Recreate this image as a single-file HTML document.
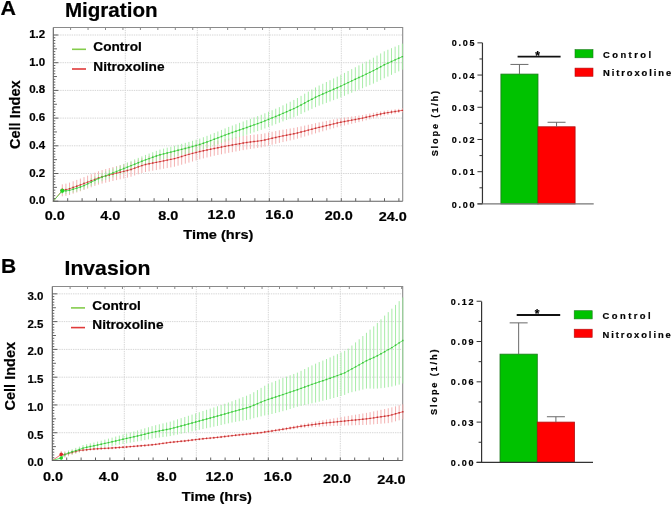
<!DOCTYPE html>
<html><head><meta charset="utf-8"><style>
html,body{margin:0;padding:0;background:#fff;width:672px;height:505px;overflow:hidden}
svg{display:block;will-change:transform}
</style></head><body>
<svg width="672" height="505" viewBox="0 0 672 505">
<rect width="672" height="505" fill="#fff"/>
<path d="M53.3 173.5H402.7 M53.3 145.8H402.7 M53.3 118.1H402.7 M53.3 90.4H402.7 M53.3 62.7H402.7 M53.3 35H402.7 M125.3 27.5V201.2 M197.3 27.5V201.2 M269.3 27.5V201.2 M341.3 27.5V201.2" stroke="#d6d6d6" stroke-width="1" stroke-dasharray="1.4 0.9" fill="none"/>
<path d="M53.3 27.5H402.7V201.2" stroke="#8a8a8a" stroke-width="1.1" fill="none"/>
<path d="M70.6 27.5v2.5 M88.05 27.5v2.5 M105.5 27.5v2.5 M122.95 27.5v2.5 M140.4 27.5v2.5 M157.85 27.5v2.5 M175.3 27.5v2.5 M192.75 27.5v2.5 M210.2 27.5v2.5 M227.65 27.5v2.5 M245.1 27.5v2.5 M262.55 27.5v2.5 M280 27.5v2.5 M297.45 27.5v2.5 M314.9 27.5v2.5 M332.35 27.5v2.5 M349.8 27.5v2.5 M367.25 27.5v2.5 M384.7 27.5v2.5" stroke="#8a8a8a" stroke-width="1" fill="none"/>
<path d="M62.3 184.33V196.34 M65.92 183.65V195.8 M69.54 182.63V194.92 M73.15 181.28V193.7 M76.77 179.92V192.48 M80.39 178.57V191.26 M84.01 177.15V189.98 M87.62 175.68V188.64 M91.24 174.21V187.31 M94.86 172.74V185.97 M98.48 171.27V184.64 M102.09 170.07V183.58 M105.71 169.07V182.71 M109.33 168.06V181.84 M112.95 167.06V180.97 M116.56 166.08V180.13 M120.18 165.14V179.31 M123.8 164.19V178.5 M127.42 163.25V177.69 M131.03 162.16V176.73 M134.65 160.82V175.51 M138.27 159.47V174.29 M141.89 158.12V173.07 M145.51 156.91V172 M149.12 156.14V171.36 M152.74 155.37V170.71 M156.36 154.59V170.07 M159.98 153.81V169.42 M163.59 153.02V168.74 M167.21 152.22V168.07 M170.83 151.42V167.4 M174.45 150.61V166.72 M178.06 149.47V165.7 M181.68 148.33V164.68 M185.3 147.18V163.67 M188.92 146.06V162.63 M192.53 145.27V161.53 M196.15 144.5V160.45 M199.77 143.73V159.36 M203.39 143.1V158.42 M207 142.49V157.49 M210.62 141.87V156.56 M214.24 141.2V155.77 M217.86 140.51V155.03 M221.48 139.81V154.3 M225.09 139.12V153.56 M228.71 138.43V152.83 M232.33 137.81V152.16 M235.95 137.18V151.49 M239.56 136.55V150.82 M243.18 135.92V150.15 M246.8 135.39V149.53 M250.42 135.02V148.99 M254.03 134.66V148.46 M257.65 134.29V147.92 M261.27 133.93V147.39 M264.89 133.29V146.57 M268.5 132.54V145.65 M272.12 131.79V144.73 M275.74 131.04V143.82 M279.36 130.31V142.91 M282.97 129.7V142.08 M286.59 129.1V141.26 M290.21 128.49V140.44 M293.83 127.89V139.62 M297.45 127.2V138.69 M301.06 126.4V137.63 M304.68 125.6V136.56 M308.3 124.79V135.49 M311.92 123.99V134.43 M315.53 123.19V133.36 M319.15 122.42V132.32 M322.77 121.67V131.32 M326.39 120.93V130.31 M330 120.18V129.3 M333.62 119.44V128.3 M337.24 118.7V127.29 M340.86 118.03V126.34 M344.47 117.52V125.49 M348.09 117.02V124.65 M351.71 116.51V123.81 M355.33 116V122.97 M358.94 115.5V122.13 M362.56 114.96V121.28 M366.18 114.25V120.32 M369.8 113.54V119.36 M373.42 112.83V118.4 M377.03 112.12V117.44 M380.65 111.41V116.48 M384.27 110.79V115.61 M387.89 110.31V114.96 M391.5 109.82V114.32 M395.12 109.33V113.67 M398.74 108.84V113.03 M402.36 108.35V112.38" stroke="#f2a8a8" stroke-width="0.9" fill="none"/>
<path d="M62.3 187.81V193.83 M65.92 187.8V194.02 M69.54 187.17V193.6 M73.15 185.96V192.59 M76.77 184.74V191.58 M80.39 183.53V190.57 M84.01 181.98V189.22 M87.62 180.14V187.59 M91.24 178.3V185.95 M94.86 176.46V184.31 M98.48 174.62V182.67 M102.09 172.97V181.23 M105.71 171.46V179.93 M109.33 169.96V178.63 M112.95 168.45V177.32 M116.56 166.94V175.98 M120.18 165.43V174.58 M123.8 163.92V173.19 M127.42 162.41V171.79 M131.03 160.9V170.4 M134.65 159.39V169 M138.27 157.88V167.61 M141.89 156.37V166.21 M145.51 154.91V164.86 M149.12 153.57V163.63 M152.74 152.23V162.4 M156.36 150.89V161.18 M159.98 149.6V160.01 M163.59 148.64V159.16 M167.21 147.68V158.32 M170.83 146.72V157.47 M174.45 145.76V156.62 M178.06 144.79V155.77 M181.68 143.82V154.92 M185.3 142.85V154.06 M188.92 141.88V153.21 M192.53 140.81V152.26 M196.15 139.73V151.29 M199.77 138.61V150.37 M203.39 137.23V149.21 M207 135.83V148.03 M210.62 134.43V146.86 M214.24 132.95V145.61 M217.86 131.44V144.32 M221.48 129.93V143.03 M225.09 128.42V141.75 M228.71 126.92V140.47 M232.33 125.57V139.35 M235.95 124.22V138.22 M239.56 122.87V137.09 M243.18 121.51V135.97 M246.8 120.17V134.8 M250.42 118.82V133.57 M254.03 117.48V132.33 M257.65 116.14V131.09 M261.27 114.79V129.86 M264.89 113.31V128.48 M268.5 111.77V127.04 M272.12 110.23V125.61 M275.74 108.68V124.18 M279.36 107.14V122.74 M282.97 105.34V121.38 M286.59 103.55V120.02 M290.21 101.76V118.66 M293.83 99.96V117.31 M297.45 98.01V115.78 M301.06 95.86V114.02 M304.68 93.7V112.25 M308.3 91.59V110.54 M311.92 89.52V108.87 M315.53 87.45V107.19 M319.15 85.52V105.66 M322.77 83.74V104.27 M326.39 81.96V102.89 M330 80.19V101.51 M333.62 78.43V100.15 M337.24 76.67V98.79 M340.86 74.86V97.36 M344.47 72.93V95.81 M348.09 71.01V94.26 M351.71 69.1V92.72 M355.33 67.24V91.23 M358.94 65.38V89.75 M362.56 63.51V88.25 M366.18 61.59V86.7 M369.8 59.66V85.14 M373.42 57.73V83.58 M377.03 55.6V81.83 M380.65 53.47V80.07 M384.27 51.34V78.31 M387.89 49.76V76.58 M391.5 48.2V74.83 M395.12 46.65V73.08 M398.74 45.13V71.37 M402.36 43.62V69.66" stroke="#9eea9e" stroke-width="0.9" fill="none"/>
<path d="M53.3 201.2 L62.3 190.34 L65.92 189.73 L69.54 188.77 L73.15 187.49 L76.77 186.2 L80.39 184.91 L84.01 183.56 L87.62 182.16 L91.24 180.76 L94.86 179.35 L98.48 177.95 L102.09 176.82 L105.71 175.89 L109.33 174.95 L112.95 174.01 L116.56 173.1 L120.18 172.23 L123.8 171.35 L127.42 170.47 L131.03 169.45 L134.65 168.16 L138.27 166.88 L141.89 165.6 L145.51 164.46 L149.12 163.75 L152.74 163.04 L156.36 162.33 L159.98 161.62 L163.59 160.88 L167.21 160.14 L170.83 159.41 L174.45 158.67 L178.06 157.59 L181.68 156.51 L185.3 155.42 L188.92 154.34 L192.53 153.4 L196.15 152.47 L199.77 151.55 L203.39 150.76 L207 149.99 L210.62 149.22 L214.24 148.48 L217.86 147.77 L221.48 147.06 L225.09 146.34 L228.71 145.63 L232.33 144.98 L235.95 144.33 L239.56 143.69 L243.18 143.04 L246.8 142.46 L250.42 142.01 L254.03 141.56 L257.65 141.11 L261.27 140.66 L264.89 139.93 L268.5 139.1 L272.12 138.26 L275.74 137.43 L279.36 136.61 L282.97 135.89 L286.59 135.18 L290.21 134.47 L293.83 133.75 L297.45 132.95 L301.06 132.01 L304.68 131.08 L308.3 130.14 L311.92 129.21 L315.53 128.28 L319.15 127.37 L322.77 126.49 L326.39 125.62 L330 124.74 L333.62 123.87 L337.24 122.99 L340.86 122.18 L344.47 121.51 L348.09 120.83 L351.71 120.16 L355.33 119.49 L358.94 118.81 L362.56 118.12 L366.18 117.28 L369.8 116.45 L373.42 115.61 L377.03 114.78 L380.65 113.95 L384.27 113.2 L387.89 112.63 L391.5 112.07 L395.12 111.5 L398.74 110.93 L402.36 110.36" stroke="#ea6060" stroke-width="0.9" fill="none"/>
<path d="M61.6 190.34h1.4M65.22 189.73h1.4M68.84 188.77h1.4M72.45 187.49h1.4M76.07 186.2h1.4M79.69 184.91h1.4M83.31 183.56h1.4M86.92 182.16h1.4M90.54 180.76h1.4M94.16 179.35h1.4M97.78 177.95h1.4M101.39 176.82h1.4M105.01 175.89h1.4M108.63 174.95h1.4M112.25 174.01h1.4M115.86 173.1h1.4M119.48 172.23h1.4M123.1 171.35h1.4M126.72 170.47h1.4M130.33 169.45h1.4M133.95 168.16h1.4M137.57 166.88h1.4M141.19 165.6h1.4M144.81 164.46h1.4M148.42 163.75h1.4M152.04 163.04h1.4M155.66 162.33h1.4M159.28 161.62h1.4M162.89 160.88h1.4M166.51 160.14h1.4M170.13 159.41h1.4M173.75 158.67h1.4M177.36 157.59h1.4M180.98 156.51h1.4M184.6 155.42h1.4M188.22 154.34h1.4M191.83 153.4h1.4M195.45 152.47h1.4M199.07 151.55h1.4M202.69 150.76h1.4M206.3 149.99h1.4M209.92 149.22h1.4M213.54 148.48h1.4M217.16 147.77h1.4M220.78 147.06h1.4M224.39 146.34h1.4M228.01 145.63h1.4M231.63 144.98h1.4M235.25 144.33h1.4M238.86 143.69h1.4M242.48 143.04h1.4M246.1 142.46h1.4M249.72 142.01h1.4M253.33 141.56h1.4M256.95 141.11h1.4M260.57 140.66h1.4M264.19 139.93h1.4M267.8 139.1h1.4M271.42 138.26h1.4M275.04 137.43h1.4M278.66 136.61h1.4M282.27 135.89h1.4M285.89 135.18h1.4M289.51 134.47h1.4M293.13 133.75h1.4M296.75 132.95h1.4M300.36 132.01h1.4M303.98 131.08h1.4M307.6 130.14h1.4M311.22 129.21h1.4M314.83 128.28h1.4M318.45 127.37h1.4M322.07 126.49h1.4M325.69 125.62h1.4M329.3 124.74h1.4M332.92 123.87h1.4M336.54 122.99h1.4M340.16 122.18h1.4M343.77 121.51h1.4M347.39 120.83h1.4M351.01 120.16h1.4M354.63 119.49h1.4M358.24 118.81h1.4M361.86 118.12h1.4M365.48 117.28h1.4M369.1 116.45h1.4M372.72 115.61h1.4M376.33 114.78h1.4M379.95 113.95h1.4M383.57 113.2h1.4M387.19 112.63h1.4M390.8 112.07h1.4M394.42 111.5h1.4M398.04 110.93h1.4M401.66 110.36h1.4" stroke="#c03030" stroke-width="1.4" fill="none"/>
<circle cx="62.3" cy="190.34" r="1.8" fill="#d82828"/>
<path d="M53.3 201.2 L62.3 190.82 L65.92 190.91 L69.54 190.39 L73.15 189.27 L76.77 188.16 L80.39 187.05 L84.01 185.6 L87.62 183.86 L91.24 182.12 L94.86 180.38 L98.48 178.64 L102.09 177.1 L105.71 175.7 L109.33 174.29 L112.95 172.89 L116.56 171.46 L120.18 170.01 L123.8 168.55 L127.42 167.1 L131.03 165.65 L134.65 164.2 L138.27 162.74 L141.89 161.29 L145.51 159.88 L149.12 158.6 L152.74 157.31 L156.36 156.03 L159.98 154.8 L163.59 153.9 L167.21 153 L170.83 152.09 L174.45 151.19 L178.06 150.28 L181.68 149.37 L185.3 148.45 L188.92 147.54 L192.53 146.53 L196.15 145.51 L199.77 144.49 L203.39 143.22 L207 141.93 L210.62 140.64 L214.24 139.28 L217.86 137.88 L221.48 136.48 L225.09 135.09 L228.71 133.69 L232.33 132.46 L235.95 131.22 L239.56 129.98 L243.18 128.74 L246.8 127.48 L250.42 126.2 L254.03 124.91 L257.65 123.62 L261.27 122.33 L264.89 120.89 L268.5 119.4 L272.12 117.92 L275.74 116.43 L279.36 114.94 L282.97 113.36 L286.59 111.79 L290.21 110.21 L293.83 108.63 L297.45 106.9 L301.06 104.94 L304.68 102.98 L308.3 101.07 L311.92 99.19 L315.53 97.32 L319.15 95.59 L322.77 94.01 L326.39 92.43 L330 90.85 L333.62 89.29 L337.24 87.73 L340.86 86.11 L344.47 84.37 L348.09 82.63 L351.71 80.91 L355.33 79.24 L358.94 77.56 L362.56 75.88 L366.18 74.14 L369.8 72.4 L373.42 70.65 L377.03 68.71 L380.65 66.77 L384.27 64.82 L387.89 63.17 L391.5 61.52 L395.12 59.87 L398.74 58.25 L402.36 56.64" stroke="#58e058" stroke-width="0.9" fill="none"/>
<path d="M61.6 190.82h1.4M65.22 190.91h1.4M68.84 190.39h1.4M72.45 189.27h1.4M76.07 188.16h1.4M79.69 187.05h1.4M83.31 185.6h1.4M86.92 183.86h1.4M90.54 182.12h1.4M94.16 180.38h1.4M97.78 178.64h1.4M101.39 177.1h1.4M105.01 175.7h1.4M108.63 174.29h1.4M112.25 172.89h1.4M115.86 171.46h1.4M119.48 170.01h1.4M123.1 168.55h1.4M126.72 167.1h1.4M130.33 165.65h1.4M133.95 164.2h1.4M137.57 162.74h1.4M141.19 161.29h1.4M144.81 159.88h1.4M148.42 158.6h1.4M152.04 157.31h1.4M155.66 156.03h1.4M159.28 154.8h1.4M162.89 153.9h1.4M166.51 153h1.4M170.13 152.09h1.4M173.75 151.19h1.4M177.36 150.28h1.4M180.98 149.37h1.4M184.6 148.45h1.4M188.22 147.54h1.4M191.83 146.53h1.4M195.45 145.51h1.4M199.07 144.49h1.4M202.69 143.22h1.4M206.3 141.93h1.4M209.92 140.64h1.4M213.54 139.28h1.4M217.16 137.88h1.4M220.78 136.48h1.4M224.39 135.09h1.4M228.01 133.69h1.4M231.63 132.46h1.4M235.25 131.22h1.4M238.86 129.98h1.4M242.48 128.74h1.4M246.1 127.48h1.4M249.72 126.2h1.4M253.33 124.91h1.4M256.95 123.62h1.4M260.57 122.33h1.4M264.19 120.89h1.4M267.8 119.4h1.4M271.42 117.92h1.4M275.04 116.43h1.4M278.66 114.94h1.4M282.27 113.36h1.4M285.89 111.79h1.4M289.51 110.21h1.4M293.13 108.63h1.4M296.75 106.9h1.4M300.36 104.94h1.4M303.98 102.98h1.4M307.6 101.07h1.4M311.22 99.19h1.4M314.83 97.32h1.4M318.45 95.59h1.4M322.07 94.01h1.4M325.69 92.43h1.4M329.3 90.85h1.4M332.92 89.29h1.4M336.54 87.73h1.4M340.16 86.11h1.4M343.77 84.37h1.4M347.39 82.63h1.4M351.01 80.91h1.4M354.63 79.24h1.4M358.24 77.56h1.4M361.86 75.88h1.4M365.48 74.14h1.4M369.1 72.4h1.4M372.72 70.65h1.4M376.33 68.71h1.4M379.95 66.77h1.4M383.57 64.82h1.4M387.19 63.17h1.4M390.8 61.52h1.4M394.42 59.87h1.4M398.04 58.25h1.4M401.66 56.64h1.4" stroke="#36c036" stroke-width="1.4" fill="none"/>
<circle cx="62.3" cy="190.82" r="2.1" fill="#22d822"/>
<path d="M53.3 27.5V201.2H402.7" stroke="#606060" stroke-width="1.1" fill="none"/>
<path d="M53.3 201.2h5 M53.3 198.43h2.0 M53.3 195.66h2.0 M53.3 192.89h2.0 M53.3 190.12h2.0 M53.3 187.35h3.6 M53.3 184.58h2.0 M53.3 181.81h2.0 M53.3 179.04h2.0 M53.3 176.27h2.0 M53.3 173.5h5 M53.3 170.73h2.0 M53.3 167.96h2.0 M53.3 165.19h2.0 M53.3 162.42h2.0 M53.3 159.65h3.6 M53.3 156.88h2.0 M53.3 154.11h2.0 M53.3 151.34h2.0 M53.3 148.57h2.0 M53.3 145.8h5 M53.3 143.03h2.0 M53.3 140.26h2.0 M53.3 137.49h2.0 M53.3 134.72h2.0 M53.3 131.95h3.6 M53.3 129.18h2.0 M53.3 126.41h2.0 M53.3 123.64h2.0 M53.3 120.87h2.0 M53.3 118.1h5 M53.3 115.33h2.0 M53.3 112.56h2.0 M53.3 109.79h2.0 M53.3 107.02h2.0 M53.3 104.25h3.6 M53.3 101.48h2.0 M53.3 98.71h2.0 M53.3 95.94h2.0 M53.3 93.17h2.0 M53.3 90.4h5 M53.3 87.63h2.0 M53.3 84.86h2.0 M53.3 82.09h2.0 M53.3 79.32h2.0 M53.3 76.55h3.6 M53.3 73.78h2.0 M53.3 71.01h2.0 M53.3 68.24h2.0 M53.3 65.47h2.0 M53.3 62.7h5 M53.3 59.93h2.0 M53.3 57.16h2.0 M53.3 54.39h2.0 M53.3 51.62h2.0 M53.3 48.85h3.6 M53.3 46.08h2.0 M53.3 43.31h2.0 M53.3 40.54h2.0 M53.3 37.77h2.0 M53.3 35h5" stroke="#606060" stroke-width="1" fill="none"/>
<path d="M67.7 201.2v-3 M82.1 201.2v-3 M96.5 201.2v-3 M110.9 201.2v-3 M125.3 201.2v-3 M139.7 201.2v-3 M154.1 201.2v-3 M168.5 201.2v-3 M182.9 201.2v-3 M197.3 201.2v-3 M211.7 201.2v-3 M226.1 201.2v-3 M240.5 201.2v-3 M254.9 201.2v-3 M269.3 201.2v-3 M283.7 201.2v-3 M298.1 201.2v-3 M312.5 201.2v-3 M326.9 201.2v-3 M341.3 201.2v-3 M355.7 201.2v-3 M370.1 201.2v-3 M384.5 201.2v-3 M398.9 201.2v-3" stroke="#606060" stroke-width="1" fill="none"/>
<text transform="translate(45.2 204.2)" text-anchor="end" font-size="11.5" font-weight="bold" font-family="Liberation Sans, sans-serif" stroke="#000" stroke-width="0.2">0.0</text>
<text transform="translate(45.2 176.5)" text-anchor="end" font-size="11.5" font-weight="bold" font-family="Liberation Sans, sans-serif" stroke="#000" stroke-width="0.2">0.2</text>
<text transform="translate(45.2 148.8)" text-anchor="end" font-size="11.5" font-weight="bold" font-family="Liberation Sans, sans-serif" stroke="#000" stroke-width="0.2">0.4</text>
<text transform="translate(45.2 121.1)" text-anchor="end" font-size="11.5" font-weight="bold" font-family="Liberation Sans, sans-serif" stroke="#000" stroke-width="0.2">0.6</text>
<text transform="translate(45.2 93.4)" text-anchor="end" font-size="11.5" font-weight="bold" font-family="Liberation Sans, sans-serif" stroke="#000" stroke-width="0.2">0.8</text>
<text transform="translate(45.2 65.7)" text-anchor="end" font-size="11.5" font-weight="bold" font-family="Liberation Sans, sans-serif" stroke="#000" stroke-width="0.2">1.0</text>
<text transform="translate(45.2 38)" text-anchor="end" font-size="11.5" font-weight="bold" font-family="Liberation Sans, sans-serif" stroke="#000" stroke-width="0.2">1.2</text>
<text transform="translate(54.8 219.5) scale(1.07 1)" text-anchor="middle" font-size="13.5" font-weight="bold" font-family="Liberation Sans, sans-serif" stroke="#000" stroke-width="0.2">0.0</text>
<text transform="translate(110.3 219.5) scale(1.07 1)" text-anchor="middle" font-size="13.5" font-weight="bold" font-family="Liberation Sans, sans-serif" stroke="#000" stroke-width="0.2">4.0</text>
<text transform="translate(168.2 219.5) scale(1.07 1)" text-anchor="middle" font-size="13.5" font-weight="bold" font-family="Liberation Sans, sans-serif" stroke="#000" stroke-width="0.2">8.0</text>
<text transform="translate(221.5 219.1) scale(1.07 1)" text-anchor="middle" font-size="13.5" font-weight="bold" font-family="Liberation Sans, sans-serif" stroke="#000" stroke-width="0.2">12.0</text>
<text transform="translate(279.4 219.1) scale(1.07 1)" text-anchor="middle" font-size="13.5" font-weight="bold" font-family="Liberation Sans, sans-serif" stroke="#000" stroke-width="0.2">16.0</text>
<text transform="translate(338.8 220.4) scale(1.07 1)" text-anchor="middle" font-size="13.5" font-weight="bold" font-family="Liberation Sans, sans-serif" stroke="#000" stroke-width="0.2">20.0</text>
<text transform="translate(392.8 221.4) scale(1.07 1)" text-anchor="middle" font-size="13.5" font-weight="bold" font-family="Liberation Sans, sans-serif" stroke="#000" stroke-width="0.2">24.0</text>
<text transform="translate(218.3 238.9) scale(1.12 1)" text-anchor="middle" font-size="13" font-weight="bold" font-family="Liberation Sans, sans-serif" stroke="#000" stroke-width="0.2">Time (hrs)</text>
<text transform="translate(19.6 114.7) rotate(-90)" text-anchor="middle" font-size="14.5" font-weight="bold" font-family="Liberation Sans, sans-serif" stroke="#000" stroke-width="0.2">Cell Index</text>
<path d="M72 49.3h14" stroke="#84cc4c" stroke-width="1.6"/>
<path d="M72 69.0h14" stroke="#e03a3a" stroke-width="1.6"/>
<text transform="translate(93.3 50.8) scale(1.05 1)" text-anchor="start" font-size="13" font-weight="bold" font-family="Liberation Sans, sans-serif" stroke="#000" stroke-width="0.2">Control</text>
<text transform="translate(93.3 70.8) scale(1.05 1)" text-anchor="start" font-size="13" font-weight="bold" font-family="Liberation Sans, sans-serif" stroke="#000" stroke-width="0.2">Nitroxoline</text>
<text transform="translate(0.5 15) scale(1.07 1)" text-anchor="start" font-size="20" font-weight="bold" font-family="Liberation Sans, sans-serif" stroke="#000" stroke-width="0.2">A</text>
<text transform="translate(64.9 16.5) scale(1.03 1)" text-anchor="start" font-size="20" font-weight="bold" font-family="Liberation Sans, sans-serif" stroke="#000" stroke-width="0.2">Migration</text>
<path d="M52.3 432.73H402.7 M52.3 404.95H402.7 M52.3 377.18H402.7 M52.3 349.4H402.7 M52.3 321.62H402.7 M52.3 293.85H402.7 M124.3 286.5V460.5 M196.3 286.5V460.5 M268.3 286.5V460.5 M340.3 286.5V460.5" stroke="#d6d6d6" stroke-width="1" stroke-dasharray="1.4 0.9" fill="none"/>
<path d="M52.3 286.5H402.7V460.5" stroke="#8a8a8a" stroke-width="1.1" fill="none"/>
<path d="M70.1 286.5v2.5 M87.55 286.5v2.5 M105 286.5v2.5 M122.45 286.5v2.5 M139.9 286.5v2.5 M157.35 286.5v2.5 M174.8 286.5v2.5 M192.25 286.5v2.5 M209.7 286.5v2.5 M227.15 286.5v2.5 M244.6 286.5v2.5 M262.05 286.5v2.5 M279.5 286.5v2.5 M296.95 286.5v2.5 M314.4 286.5v2.5 M331.85 286.5v2.5 M349.3 286.5v2.5 M366.75 286.5v2.5 M384.2 286.5v2.5 M401.65 286.5v2.5" stroke="#8a8a8a" stroke-width="1" fill="none"/>
<path d="M61.23 450.94V457.88 M64.86 451.46V457.68 M68.5 450.71V456.21 M72.13 450.09V454.87 M75.76 449.47V453.53 M79.4 448.87V452.21 M83.03 448.59V451.57 M86.66 448.26V451.18 M90.3 447.92V450.79 M93.93 447.58V450.4 M97.57 447.37V450.14 M101.2 447.2V449.92 M104.83 447.04V449.71 M108.47 446.87V449.49 M112.1 446.67V449.24 M115.73 446.45V448.97 M119.37 446.23V448.7 M123 446.01V448.43 M126.63 445.74V448.14 M130.27 445.44V447.84 M133.9 445.15V447.55 M137.54 444.85V447.25 M141.17 444.54V446.94 M144.8 444.23V446.63 M148.44 443.91V446.31 M152.07 443.6V446 M155.7 443.21V445.61 M159.34 442.69V445.09 M162.97 442.18V444.58 M166.61 441.66V444.06 M170.24 441.16V443.56 M173.87 440.81V443.21 M177.51 440.45V442.85 M181.14 440.09V442.49 M184.77 439.73V442.13 M188.41 439.31V441.71 M192.04 438.87V441.27 M195.67 438.42V440.82 M199.31 437.98V440.38 M202.94 437.57V439.97 M206.58 437.22V439.62 M210.21 436.88V439.28 M213.84 436.53V438.93 M217.48 436.19V438.59 M221.11 435.76V438.16 M224.74 435.33V437.73 M228.38 434.89V437.31 M232.01 434.46V436.89 M235.65 434.05V436.5 M239.28 433.67V436.14 M242.91 433.29V435.77 M246.55 432.91V435.41 M250.18 432.53V435.04 M253.81 432.15V434.68 M257.45 431.76V434.31 M261.08 431.33V433.89 M264.72 430.77V433.35 M268.35 430.2V432.81 M271.98 429.59V432.32 M275.62 428.98V431.83 M279.25 428.36V431.34 M282.88 427.73V430.83 M286.52 427.06V430.29 M290.15 426.39V429.74 M293.78 425.72V429.2 M297.42 425.03V428.67 M301.05 424.24V428.24 M304.69 423.5V427.88 M308.32 422.84V427.59 M311.95 422.18V427.3 M315.59 421.51V427.01 M319.22 420.85V426.72 M322.85 420.19V426.43 M326.49 419.55V426.22 M330.12 418.93V426.09 M333.76 418.32V425.96 M337.39 417.71V425.83 M341.02 417.1V425.7 M344.66 416.49V425.57 M348.29 415.88V425.45 M351.92 415.28V425.33 M355.56 414.68V425.21 M359.19 414.08V425.09 M362.83 413.48V424.97 M366.46 412.88V424.86 M370.09 412.18V424.64 M373.73 411.39V424.33 M377.36 410.61V424.03 M380.99 409.83V423.73 M384.63 409.05V423.43 M388.26 408.26V423.13 M391.89 407.35V422.35 M395.53 406.32V421.32 M399.16 405.3V420.3 M402.8 404.28V419.28" stroke="#f2a8a8" stroke-width="0.9" fill="none"/>
<path d="M61.23 455.97V460 M64.86 452.33V456.72 M68.5 450.62V455.37 M72.13 449.26V454.37 M75.76 447.92V453.39 M79.4 446.64V452.47 M83.03 445.06V451.14 M86.66 444.19V450.42 M90.3 443.37V449.75 M93.93 442.55V449.08 M97.57 441.62V448.44 M101.2 440.63V447.82 M104.83 439.64V447.21 M108.47 438.64V446.6 M112.1 437.63V445.96 M115.73 436.59V445.3 M119.37 435.56V444.65 M123 434.53V443.99 M126.63 433.5V443.35 M130.27 432.48V442.71 M133.9 431.46V442.07 M137.54 430.44V441.43 M141.17 429.39V440.76 M144.8 428.31V440.07 M148.44 427.24V439.38 M152.07 426.16V438.68 M155.7 425.17V438.07 M159.34 424.3V437.58 M162.97 423.42V437.09 M166.61 422.55V436.6 M170.24 421.65V436.09 M173.87 420.49V435.32 M177.51 419.32V434.55 M181.14 418.15V433.78 M184.77 416.98V433.01 M188.41 415.79V432.23 M192.04 414.6V431.43 M195.67 413.4V430.64 M199.31 412.21V429.85 M202.94 411.01V429.05 M206.58 409.82V428.26 M210.21 408.63V427.46 M213.84 407.43V426.67 M217.48 406.24V425.88 M221.11 405V425.04 M224.74 403.77V424.21 M228.38 402.53V423.37 M232.01 401.29V422.54 M235.65 399.95V421.85 M239.28 398.54V421.25 M242.91 397.13V420.66 M246.55 395.72V420.06 M250.18 394.16V419.32 M253.81 392.22V418.2 M257.45 390.06V417.3 M261.08 387.9V416.4 M264.72 385.74V415.5 M268.35 383.89V414.9 M271.98 382.42V413.98 M275.62 380.95V413.05 M279.25 379.48V412.13 M282.88 378V411.19 M286.52 376.55V410.19 M290.15 375.27V409.02 M293.78 373.98V407.86 M297.42 372.64V406.72 M301.05 370.83V405.88 M304.69 369.02V405.03 M308.32 367.21V404.19 M311.95 365.4V403.35 M315.59 363.68V402.59 M319.22 362.09V401.74 M322.85 360.55V400.84 M326.49 359V399.93 M330.12 357.41V398.99 M333.76 355.78V398 M337.39 354.15V397 M341.02 352.51V396.01 M344.66 350.84V394.88 M348.29 348.59V393.14 M351.92 345.53V392.19 M355.56 342.39V391.33 M359.19 339.25V390.47 M362.83 336.04V389.54 M366.46 332.81V388.6 M370.09 329.6V388.6 M373.73 326.38V388.7 M377.36 322.97V388.59 M380.99 319.28V388.21 M384.63 315.6V387.81 M388.26 312.15V387.19 M391.89 308.68V386.55 M395.53 304.89V385.6 M399.16 301.14V384.62 M402.8 297.51V383.51" stroke="#9eea9e" stroke-width="0.9" fill="none"/>
<path d="M52.3 460.5 L61.23 454.41 L64.86 454.57 L68.5 453.46 L72.13 452.48 L75.76 451.5 L79.4 450.54 L83.03 450.08 L86.66 449.72 L90.3 449.35 L93.93 448.99 L97.57 448.75 L101.2 448.56 L104.83 448.37 L108.47 448.18 L112.1 447.95 L115.73 447.71 L119.37 447.46 L123 447.22 L126.63 446.94 L130.27 446.64 L133.9 446.35 L137.54 446.05 L141.17 445.74 L144.8 445.43 L148.44 445.11 L152.07 444.8 L155.7 444.41 L159.34 443.89 L162.97 443.38 L166.61 442.86 L170.24 442.36 L173.87 442.01 L177.51 441.65 L181.14 441.29 L184.77 440.93 L188.41 440.51 L192.04 440.07 L195.67 439.62 L199.31 439.18 L202.94 438.77 L206.58 438.42 L210.21 438.08 L213.84 437.73 L217.48 437.39 L221.11 436.96 L224.74 436.53 L228.38 436.1 L232.01 435.67 L235.65 435.28 L239.28 434.9 L242.91 434.53 L246.55 434.16 L250.18 433.79 L253.81 433.41 L257.45 433.04 L261.08 432.61 L264.72 432.06 L268.35 431.51 L271.98 430.95 L275.62 430.4 L279.25 429.85 L282.88 429.28 L286.52 428.67 L290.15 428.06 L293.78 427.46 L297.42 426.85 L301.05 426.24 L304.69 425.69 L308.32 425.21 L311.95 424.74 L315.59 424.26 L319.22 423.78 L322.85 423.31 L326.49 422.88 L330.12 422.51 L333.76 422.14 L337.39 421.77 L341.02 421.4 L344.66 421.03 L348.29 420.67 L351.92 420.3 L355.56 419.94 L359.19 419.58 L362.83 419.23 L366.46 418.87 L370.09 418.41 L373.73 417.86 L377.36 417.32 L380.99 416.78 L384.63 416.24 L388.26 415.7 L391.89 414.85 L395.53 413.82 L399.16 412.8 L402.8 411.78" stroke="#ea6060" stroke-width="0.9" fill="none"/>
<path d="M60.53 454.41h1.4M64.16 454.57h1.4M67.8 453.46h1.4M71.43 452.48h1.4M75.06 451.5h1.4M78.7 450.54h1.4M82.33 450.08h1.4M85.96 449.72h1.4M89.6 449.35h1.4M93.23 448.99h1.4M96.87 448.75h1.4M100.5 448.56h1.4M104.13 448.37h1.4M107.77 448.18h1.4M111.4 447.95h1.4M115.03 447.71h1.4M118.67 447.46h1.4M122.3 447.22h1.4M125.93 446.94h1.4M129.57 446.64h1.4M133.2 446.35h1.4M136.84 446.05h1.4M140.47 445.74h1.4M144.1 445.43h1.4M147.74 445.11h1.4M151.37 444.8h1.4M155 444.41h1.4M158.64 443.89h1.4M162.27 443.38h1.4M165.91 442.86h1.4M169.54 442.36h1.4M173.17 442.01h1.4M176.81 441.65h1.4M180.44 441.29h1.4M184.07 440.93h1.4M187.71 440.51h1.4M191.34 440.07h1.4M194.97 439.62h1.4M198.61 439.18h1.4M202.24 438.77h1.4M205.88 438.42h1.4M209.51 438.08h1.4M213.14 437.73h1.4M216.78 437.39h1.4M220.41 436.96h1.4M224.04 436.53h1.4M227.68 436.1h1.4M231.31 435.67h1.4M234.95 435.28h1.4M238.58 434.9h1.4M242.21 434.53h1.4M245.85 434.16h1.4M249.48 433.79h1.4M253.11 433.41h1.4M256.75 433.04h1.4M260.38 432.61h1.4M264.02 432.06h1.4M267.65 431.51h1.4M271.28 430.95h1.4M274.92 430.4h1.4M278.55 429.85h1.4M282.18 429.28h1.4M285.82 428.67h1.4M289.45 428.06h1.4M293.08 427.46h1.4M296.72 426.85h1.4M300.35 426.24h1.4M303.99 425.69h1.4M307.62 425.21h1.4M311.25 424.74h1.4M314.89 424.26h1.4M318.52 423.78h1.4M322.15 423.31h1.4M325.79 422.88h1.4M329.42 422.51h1.4M333.06 422.14h1.4M336.69 421.77h1.4M340.32 421.4h1.4M343.96 421.03h1.4M347.59 420.67h1.4M351.22 420.3h1.4M354.86 419.94h1.4M358.49 419.58h1.4M362.13 419.23h1.4M365.76 418.87h1.4M369.39 418.41h1.4M373.03 417.86h1.4M376.66 417.32h1.4M380.29 416.78h1.4M383.93 416.24h1.4M387.56 415.7h1.4M391.19 414.85h1.4M394.83 413.82h1.4M398.46 412.8h1.4M402.1 411.78h1.4" stroke="#c03030" stroke-width="1.4" fill="none"/>
<circle cx="61.23" cy="454.41" r="1.8" fill="#d82828"/>
<path d="M52.3 460.5 L61.23 457.99 L64.86 454.53 L68.5 453 L72.13 451.82 L75.76 450.65 L79.4 449.56 L83.03 448.1 L86.66 447.3 L90.3 446.56 L93.93 445.82 L97.57 445.03 L101.2 444.23 L104.83 443.42 L108.47 442.62 L112.1 441.79 L115.73 440.95 L119.37 440.1 L123 439.26 L126.63 438.42 L130.27 437.59 L133.9 436.76 L137.54 435.93 L141.17 435.08 L144.8 434.19 L148.44 433.31 L152.07 432.42 L155.7 431.62 L159.34 430.94 L162.97 430.26 L166.61 429.57 L170.24 428.87 L173.87 427.9 L177.51 426.93 L181.14 425.96 L184.77 425 L188.41 424.01 L192.04 423.02 L195.67 422.02 L199.31 421.03 L202.94 420.03 L206.58 419.04 L210.21 418.05 L213.84 417.05 L217.48 416.06 L221.11 415.02 L224.74 413.99 L228.38 412.95 L232.01 411.92 L235.65 410.9 L239.28 409.9 L242.91 408.89 L246.55 407.89 L250.18 406.74 L253.81 405.21 L257.45 403.68 L261.08 402.15 L264.72 400.62 L268.35 399.4 L271.98 398.2 L275.62 397 L279.25 395.8 L282.88 394.59 L286.52 393.37 L290.15 392.15 L293.78 390.92 L297.42 389.68 L301.05 388.35 L304.69 387.03 L308.32 385.7 L311.95 384.38 L315.59 383.14 L319.22 381.91 L322.85 380.69 L326.49 379.47 L330.12 378.2 L333.76 376.89 L337.39 375.58 L341.02 374.26 L344.66 372.86 L348.29 370.86 L351.92 368.86 L355.56 366.86 L359.19 364.86 L362.83 362.79 L366.46 360.7 L370.09 359.1 L373.73 357.54 L377.36 355.78 L380.99 353.75 L384.63 351.71 L388.26 349.67 L391.89 347.61 L395.53 345.25 L399.16 342.88 L402.8 340.51" stroke="#58e058" stroke-width="0.9" fill="none"/>
<path d="M60.53 457.99h1.4M64.16 454.53h1.4M67.8 453h1.4M71.43 451.82h1.4M75.06 450.65h1.4M78.7 449.56h1.4M82.33 448.1h1.4M85.96 447.3h1.4M89.6 446.56h1.4M93.23 445.82h1.4M96.87 445.03h1.4M100.5 444.23h1.4M104.13 443.42h1.4M107.77 442.62h1.4M111.4 441.79h1.4M115.03 440.95h1.4M118.67 440.1h1.4M122.3 439.26h1.4M125.93 438.42h1.4M129.57 437.59h1.4M133.2 436.76h1.4M136.84 435.93h1.4M140.47 435.08h1.4M144.1 434.19h1.4M147.74 433.31h1.4M151.37 432.42h1.4M155 431.62h1.4M158.64 430.94h1.4M162.27 430.26h1.4M165.91 429.57h1.4M169.54 428.87h1.4M173.17 427.9h1.4M176.81 426.93h1.4M180.44 425.96h1.4M184.07 425h1.4M187.71 424.01h1.4M191.34 423.02h1.4M194.97 422.02h1.4M198.61 421.03h1.4M202.24 420.03h1.4M205.88 419.04h1.4M209.51 418.05h1.4M213.14 417.05h1.4M216.78 416.06h1.4M220.41 415.02h1.4M224.04 413.99h1.4M227.68 412.95h1.4M231.31 411.92h1.4M234.95 410.9h1.4M238.58 409.9h1.4M242.21 408.89h1.4M245.85 407.89h1.4M249.48 406.74h1.4M253.11 405.21h1.4M256.75 403.68h1.4M260.38 402.15h1.4M264.02 400.62h1.4M267.65 399.4h1.4M271.28 398.2h1.4M274.92 397h1.4M278.55 395.8h1.4M282.18 394.59h1.4M285.82 393.37h1.4M289.45 392.15h1.4M293.08 390.92h1.4M296.72 389.68h1.4M300.35 388.35h1.4M303.99 387.03h1.4M307.62 385.7h1.4M311.25 384.38h1.4M314.89 383.14h1.4M318.52 381.91h1.4M322.15 380.69h1.4M325.79 379.47h1.4M329.42 378.2h1.4M333.06 376.89h1.4M336.69 375.58h1.4M340.32 374.26h1.4M343.96 372.86h1.4M347.59 370.86h1.4M351.22 368.86h1.4M354.86 366.86h1.4M358.49 364.86h1.4M362.13 362.79h1.4M365.76 360.7h1.4M369.39 359.1h1.4M373.03 357.54h1.4M376.66 355.78h1.4M380.29 353.75h1.4M383.93 351.71h1.4M387.56 349.67h1.4M391.19 347.61h1.4M394.83 345.25h1.4M398.46 342.88h1.4M402.1 340.51h1.4" stroke="#36c036" stroke-width="1.4" fill="none"/>
<circle cx="61.23" cy="457.99" r="1.8" fill="#22d822"/>
<path d="M52.3 286.5V460.5H402.7" stroke="#606060" stroke-width="1.1" fill="none"/>
<path d="M52.3 460.5h5 M52.3 457.72h2.0 M52.3 454.94h2.0 M52.3 452.17h2.0 M52.3 449.39h2.0 M52.3 446.61h3.6 M52.3 443.83h2.0 M52.3 441.06h2.0 M52.3 438.28h2.0 M52.3 435.5h2.0 M52.3 432.73h5 M52.3 429.95h2.0 M52.3 427.17h2.0 M52.3 424.39h2.0 M52.3 421.62h2.0 M52.3 418.84h3.6 M52.3 416.06h2.0 M52.3 413.28h2.0 M52.3 410.5h2.0 M52.3 407.73h2.0 M52.3 404.95h5 M52.3 402.17h2.0 M52.3 399.39h2.0 M52.3 396.62h2.0 M52.3 393.84h2.0 M52.3 391.06h3.6 M52.3 388.28h2.0 M52.3 385.51h2.0 M52.3 382.73h2.0 M52.3 379.95h2.0 M52.3 377.18h5 M52.3 374.4h2.0 M52.3 371.62h2.0 M52.3 368.84h2.0 M52.3 366.06h2.0 M52.3 363.29h3.6 M52.3 360.51h2.0 M52.3 357.73h2.0 M52.3 354.95h2.0 M52.3 352.18h2.0 M52.3 349.4h5 M52.3 346.62h2.0 M52.3 343.85h2.0 M52.3 341.07h2.0 M52.3 338.29h2.0 M52.3 335.51h3.6 M52.3 332.74h2.0 M52.3 329.96h2.0 M52.3 327.18h2.0 M52.3 324.4h2.0 M52.3 321.62h5 M52.3 318.85h2.0 M52.3 316.07h2.0 M52.3 313.29h2.0 M52.3 310.51h2.0 M52.3 307.74h3.6 M52.3 304.96h2.0 M52.3 302.18h2.0 M52.3 299.4h2.0 M52.3 296.63h2.0 M52.3 293.85h5" stroke="#606060" stroke-width="1" fill="none"/>
<path d="M66.7 460.5v-3 M81.1 460.5v-3 M95.5 460.5v-3 M109.9 460.5v-3 M124.3 460.5v-3 M138.7 460.5v-3 M153.1 460.5v-3 M167.5 460.5v-3 M181.9 460.5v-3 M196.3 460.5v-3 M210.7 460.5v-3 M225.1 460.5v-3 M239.5 460.5v-3 M253.9 460.5v-3 M268.3 460.5v-3 M282.7 460.5v-3 M297.1 460.5v-3 M311.5 460.5v-3 M325.9 460.5v-3 M340.3 460.5v-3 M354.7 460.5v-3 M369.1 460.5v-3 M383.5 460.5v-3 M397.9 460.5v-3" stroke="#606060" stroke-width="1" fill="none"/>
<text transform="translate(43.4 466.4)" text-anchor="end" font-size="11.5" font-weight="bold" font-family="Liberation Sans, sans-serif" stroke="#000" stroke-width="0.2">0.0</text>
<text transform="translate(43.4 438.62)" text-anchor="end" font-size="11.5" font-weight="bold" font-family="Liberation Sans, sans-serif" stroke="#000" stroke-width="0.2">0.5</text>
<text transform="translate(43.4 410.85)" text-anchor="end" font-size="11.5" font-weight="bold" font-family="Liberation Sans, sans-serif" stroke="#000" stroke-width="0.2">1.0</text>
<text transform="translate(43.4 383.07)" text-anchor="end" font-size="11.5" font-weight="bold" font-family="Liberation Sans, sans-serif" stroke="#000" stroke-width="0.2">1.5</text>
<text transform="translate(43.4 355.3)" text-anchor="end" font-size="11.5" font-weight="bold" font-family="Liberation Sans, sans-serif" stroke="#000" stroke-width="0.2">2.0</text>
<text transform="translate(43.4 327.52)" text-anchor="end" font-size="11.5" font-weight="bold" font-family="Liberation Sans, sans-serif" stroke="#000" stroke-width="0.2">2.5</text>
<text transform="translate(43.4 299.75)" text-anchor="end" font-size="11.5" font-weight="bold" font-family="Liberation Sans, sans-serif" stroke="#000" stroke-width="0.2">3.0</text>
<text transform="translate(53.1 481.4) scale(1.07 1)" text-anchor="middle" font-size="13.5" font-weight="bold" font-family="Liberation Sans, sans-serif" stroke="#000" stroke-width="0.2">0.0</text>
<text transform="translate(108.7 481.4) scale(1.07 1)" text-anchor="middle" font-size="13.5" font-weight="bold" font-family="Liberation Sans, sans-serif" stroke="#000" stroke-width="0.2">4.0</text>
<text transform="translate(166.8 481.1) scale(1.07 1)" text-anchor="middle" font-size="13.5" font-weight="bold" font-family="Liberation Sans, sans-serif" stroke="#000" stroke-width="0.2">8.0</text>
<text transform="translate(219.6 480.5) scale(1.07 1)" text-anchor="middle" font-size="13.5" font-weight="bold" font-family="Liberation Sans, sans-serif" stroke="#000" stroke-width="0.2">12.0</text>
<text transform="translate(277.9 480.5) scale(1.07 1)" text-anchor="middle" font-size="13.5" font-weight="bold" font-family="Liberation Sans, sans-serif" stroke="#000" stroke-width="0.2">16.0</text>
<text transform="translate(337.1 482.8) scale(1.07 1)" text-anchor="middle" font-size="13.5" font-weight="bold" font-family="Liberation Sans, sans-serif" stroke="#000" stroke-width="0.2">20.0</text>
<text transform="translate(391.4 483.5) scale(1.07 1)" text-anchor="middle" font-size="13.5" font-weight="bold" font-family="Liberation Sans, sans-serif" stroke="#000" stroke-width="0.2">24.0</text>
<text transform="translate(216.8 500.8) scale(1.12 1)" text-anchor="middle" font-size="13" font-weight="bold" font-family="Liberation Sans, sans-serif" stroke="#000" stroke-width="0.2">Time (hrs)</text>
<text transform="translate(15.2 376.2) rotate(-90)" text-anchor="middle" font-size="14.5" font-weight="bold" font-family="Liberation Sans, sans-serif" stroke="#000" stroke-width="0.2">Cell Index</text>
<path d="M71 307.9h14" stroke="#84cc4c" stroke-width="1.6"/>
<path d="M71 327.59999999999997h14" stroke="#e03a3a" stroke-width="1.6"/>
<text transform="translate(92.3 310) scale(1.05 1)" text-anchor="start" font-size="13" font-weight="bold" font-family="Liberation Sans, sans-serif" stroke="#000" stroke-width="0.2">Control</text>
<text transform="translate(92.3 329.1) scale(1.05 1)" text-anchor="start" font-size="13" font-weight="bold" font-family="Liberation Sans, sans-serif" stroke="#000" stroke-width="0.2">Nitroxoline</text>
<text transform="translate(1 272.7) scale(1.05 1)" text-anchor="start" font-size="20" font-weight="bold" font-family="Liberation Sans, sans-serif" stroke="#000" stroke-width="0.2">B</text>
<text transform="translate(64.5 274.7) scale(1.06 1)" text-anchor="start" font-size="20" font-weight="bold" font-family="Liberation Sans, sans-serif" stroke="#000" stroke-width="0.2">Invasion</text>
<rect x="500.9" y="74.09" width="37.1" height="129.81" fill="#00c200" stroke="#1d7a1d" stroke-width="0.8"/>
<path d="M519.45 74.09V64.43M510.45 64.43H528.45" stroke="#6a6a6a" stroke-width="1" fill="none"/>
<rect x="538" y="126.79" width="37.1" height="77.11" fill="#ff0000" stroke="#b01010" stroke-width="0.8"/>
<path d="M556.55 126.79V122.28M547.55 122.28H565.55" stroke="#6a6a6a" stroke-width="1" fill="none"/>
<path d="M482.45 42.85V203.9" stroke="#333" stroke-width="1.2" fill="none"/>
<path d="M477.45 203.9H593.7" stroke="#777" stroke-width="1.3" fill="none"/>
<path d="M482.45 203.9h-5 M482.45 187.8h-3 M482.45 171.69h-5 M482.45 155.59h-3 M482.45 139.48h-5 M482.45 123.38h-3 M482.45 107.27h-5 M482.45 91.16h-3 M482.45 75.06h-5 M482.45 58.96h-3 M482.45 42.85h-5" stroke="#333" stroke-width="1" fill="none"/>
<text transform="translate(476.2 207.5)" text-anchor="end" font-size="9" font-weight="bold" letter-spacing="1.7" font-family="Liberation Sans, sans-serif" stroke="#000" stroke-width="0.2">0.00</text>
<text transform="translate(476.2 175.29)" text-anchor="end" font-size="9" font-weight="bold" letter-spacing="1.7" font-family="Liberation Sans, sans-serif" stroke="#000" stroke-width="0.2">0.01</text>
<text transform="translate(476.2 143.08)" text-anchor="end" font-size="9" font-weight="bold" letter-spacing="1.7" font-family="Liberation Sans, sans-serif" stroke="#000" stroke-width="0.2">0.02</text>
<text transform="translate(476.2 110.87)" text-anchor="end" font-size="9" font-weight="bold" letter-spacing="1.7" font-family="Liberation Sans, sans-serif" stroke="#000" stroke-width="0.2">0.03</text>
<text transform="translate(476.2 78.66)" text-anchor="end" font-size="9" font-weight="bold" letter-spacing="1.7" font-family="Liberation Sans, sans-serif" stroke="#000" stroke-width="0.2">0.04</text>
<text transform="translate(476.2 46.45)" text-anchor="end" font-size="9" font-weight="bold" letter-spacing="1.7" font-family="Liberation Sans, sans-serif" stroke="#000" stroke-width="0.2">0.05</text>
<text transform="translate(437.9 122.7) rotate(-90)" text-anchor="middle" font-size="9.2" font-weight="bold" letter-spacing="1.85" font-family="Liberation Sans, sans-serif" stroke="#000" stroke-width="0.2">Slope (1/h)</text>
<path d="M517.6 56.6H560.6" stroke="#111" stroke-width="1.8"/>
<text transform="translate(537.7 59.6)" text-anchor="middle" font-size="12" font-weight="bold" font-family="Liberation Sans, sans-serif" stroke="#000" stroke-width="0.2">*</text>
<rect x="575" y="49.6" width="18" height="8.2" fill="#00c200" stroke="#1a7a1a" stroke-width="0.6"/>
<rect x="575" y="68.1" width="18" height="8.2" fill="#ff0000" stroke="#b01010" stroke-width="0.6"/>
<text transform="translate(603 57.9)" text-anchor="start" font-size="9.4" font-weight="bold" letter-spacing="2.45" font-family="Liberation Sans, sans-serif" stroke="#000" stroke-width="0.2">Control</text>
<text transform="translate(603 76.4)" text-anchor="start" font-size="9.4" font-weight="bold" letter-spacing="1.92" font-family="Liberation Sans, sans-serif" stroke="#000" stroke-width="0.2">Nitroxoline</text>
<rect x="500" y="354.15" width="37.3" height="108.25" fill="#00c200" stroke="#1d7a1d" stroke-width="0.8"/>
<path d="M518.65 354.15V322.86M509.65 322.86H527.65" stroke="#6a6a6a" stroke-width="1" fill="none"/>
<rect x="537.3" y="422.11" width="37.2" height="40.29" fill="#ff0000" stroke="#b01010" stroke-width="0.8"/>
<path d="M555.9 422.11V416.74M546.9 416.74H564.9" stroke="#6a6a6a" stroke-width="1" fill="none"/>
<path d="M481.6 301.4V462.4" stroke="#333" stroke-width="1.2" fill="none"/>
<path d="M476.6 462.4H593" stroke="#333" stroke-width="1.3" fill="none"/>
<path d="M481.6 462.4h-5 M481.6 442.25h-3 M481.6 422.11h-5 M481.6 401.96h-3 M481.6 381.82h-5 M481.6 361.67h-3 M481.6 341.53h-5 M481.6 321.38h-3 M481.6 301.24h-5" stroke="#333" stroke-width="1" fill="none"/>
<text transform="translate(475.1 466)" text-anchor="end" font-size="9" font-weight="bold" letter-spacing="1.7" font-family="Liberation Sans, sans-serif" stroke="#000" stroke-width="0.2">0.00</text>
<text transform="translate(475.1 425.71)" text-anchor="end" font-size="9" font-weight="bold" letter-spacing="1.7" font-family="Liberation Sans, sans-serif" stroke="#000" stroke-width="0.2">0.03</text>
<text transform="translate(475.1 385.42)" text-anchor="end" font-size="9" font-weight="bold" letter-spacing="1.7" font-family="Liberation Sans, sans-serif" stroke="#000" stroke-width="0.2">0.06</text>
<text transform="translate(475.1 345.13)" text-anchor="end" font-size="9" font-weight="bold" letter-spacing="1.7" font-family="Liberation Sans, sans-serif" stroke="#000" stroke-width="0.2">0.09</text>
<text transform="translate(475.1 304.84)" text-anchor="end" font-size="9" font-weight="bold" letter-spacing="1.7" font-family="Liberation Sans, sans-serif" stroke="#000" stroke-width="0.2">0.12</text>
<text transform="translate(437.4 381.3) rotate(-90)" text-anchor="middle" font-size="9.2" font-weight="bold" letter-spacing="1.85" font-family="Liberation Sans, sans-serif" stroke="#000" stroke-width="0.2">Slope (1/h)</text>
<path d="M516.7 315H560.2" stroke="#111" stroke-width="1.8"/>
<text transform="translate(537 318.1)" text-anchor="middle" font-size="12" font-weight="bold" font-family="Liberation Sans, sans-serif" stroke="#000" stroke-width="0.2">*</text>
<rect x="574.2" y="310.7" width="18" height="8.2" fill="#00c200" stroke="#1a7a1a" stroke-width="0.6"/>
<rect x="574.2" y="329.2" width="18" height="8.2" fill="#ff0000" stroke="#b01010" stroke-width="0.6"/>
<text transform="translate(602.6 319)" text-anchor="start" font-size="9.4" font-weight="bold" letter-spacing="2.45" font-family="Liberation Sans, sans-serif" stroke="#000" stroke-width="0.2">Control</text>
<text transform="translate(602.6 337.5)" text-anchor="start" font-size="9.4" font-weight="bold" letter-spacing="1.92" font-family="Liberation Sans, sans-serif" stroke="#000" stroke-width="0.2">Nitroxoline</text>
</svg>
</body></html>
